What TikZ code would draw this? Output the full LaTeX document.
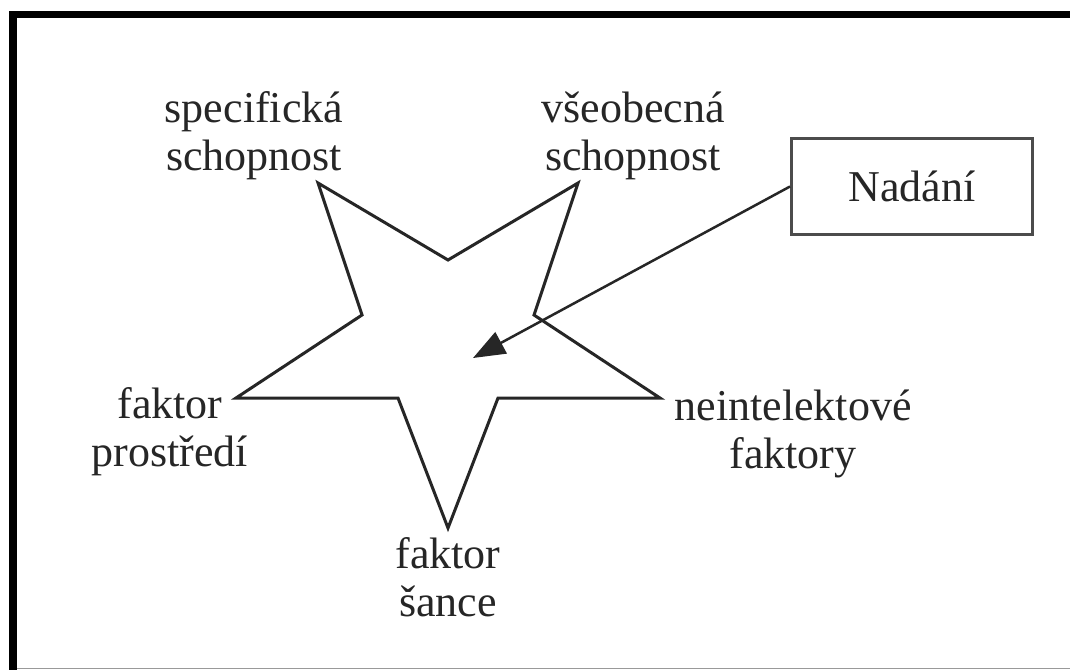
\documentclass[tikz,border=0pt]{standalone}
\usepackage{fontspec}
\setmainfont{Liberation Serif}
\newfontfamily\tnr{Liberation Serif}
\usetikzlibrary{arrows.meta}
\newcommand\twoline[2]{\begin{tabular}[t]{@{}c@{}}#1\\#2\end{tabular}}
\begin{document}
\begin{tikzpicture}[x=1pt,y=-1pt,
  lbl/.style={inner sep=0pt, anchor=base, text=black!85, font=\tnr\fontsize{44}{48}\selectfont},
  starline/.style={draw=black!85, line width=3pt, line join=miter},
  boxnode/.style={draw=black!70, line width=3pt, minimum width=241pt, minimum height=96pt,
    inner sep=0pt, text height=30pt, text depth=0pt, text=black!85, font=\tnr\fontsize{44}{48}\selectfont},
  arrowline/.style={draw=black!85, line width=2.5pt, -{Triangle[length=32pt,width=24pt]}}]
\useasboundingbox (0,0) rectangle (1070,670);
\fill[white] (0,0) rectangle (1070,670);
% frame
\fill[black] (9,11) rectangle (1070,18);
\fill[black] (9,11) rectangle (17,670);
\draw[black!40, line width=1.5pt] (17,668.5) -- (1070,668.5);
% star
\draw[starline] (318,183) -- (448,260) -- (578,183) -- (534,315) -- (660,398)
  -- (498,398) -- (448,528) -- (398,398) -- (236,398) -- (362,315) -- cycle;
% labels
\node[lbl] (spec) at (254,122) {\twoline{specifická}{schopnost}};
\node[lbl] (vseo) at (633,122) {\twoline{všeobecná}{schopnost}};
\node[lbl] (prost) at (170,418) {\twoline{faktor}{prostředí}};
\node[lbl] (neint) at (793,420) {\twoline{neintelektové}{faktory}};
\node[lbl] (sance) at (448,568) {\twoline{faktor}{šance}};
% box and arrow
\node[boxnode] (nadani) at (912,186.5) {Nadání};
\coordinate (tip) at (473,358);
\draw[arrowline] (nadani.west) -- (tip);
\end{tikzpicture}
\end{document}
